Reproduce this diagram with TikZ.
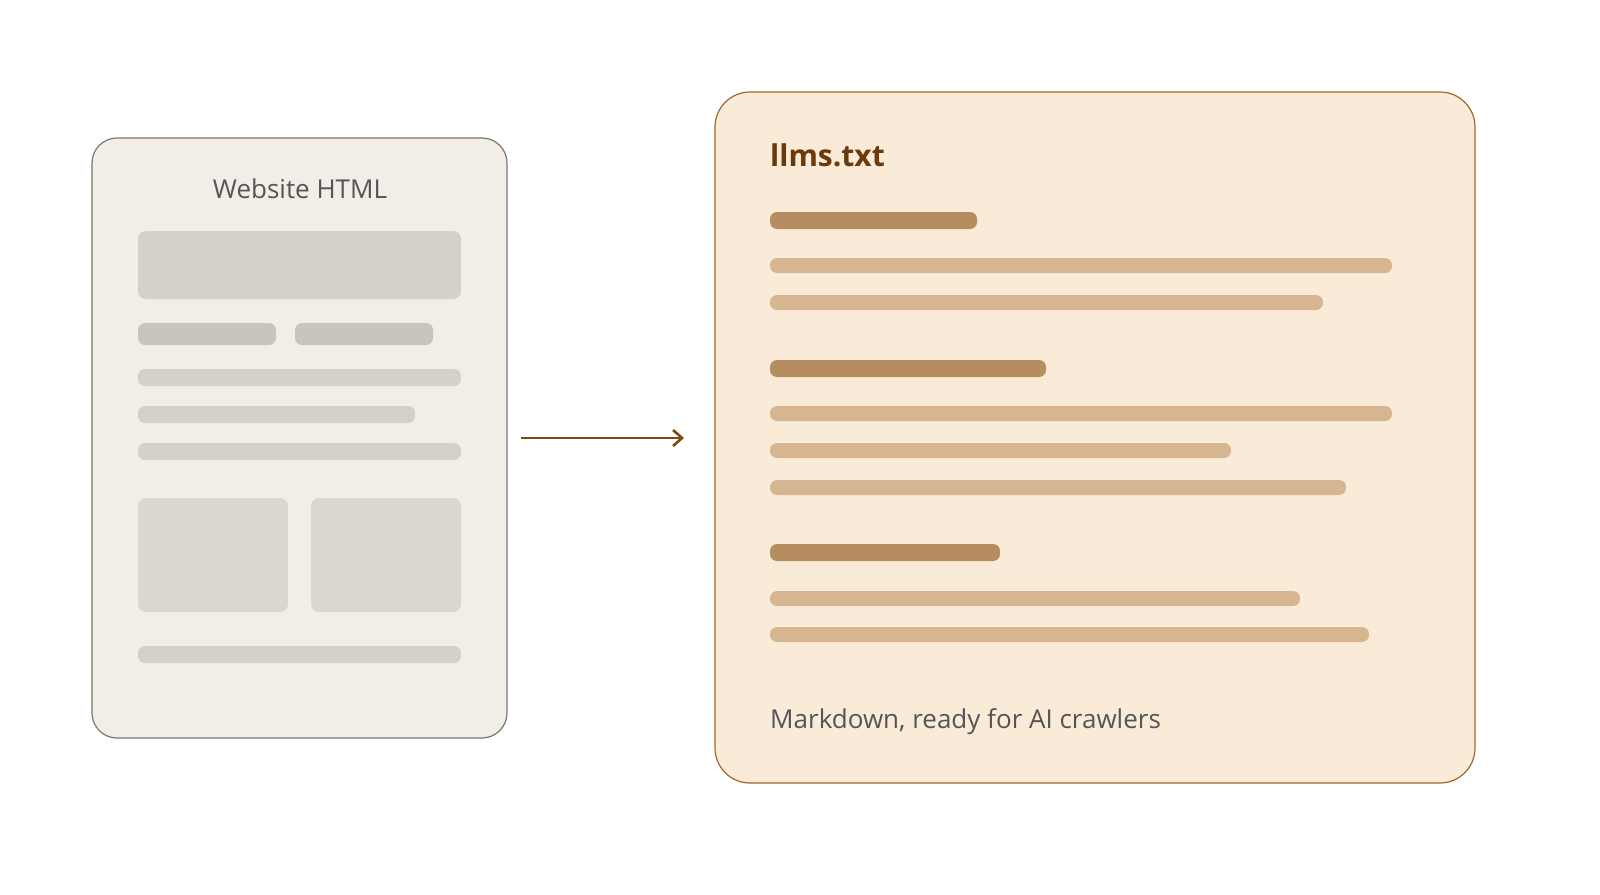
\documentclass[tikz,border=0pt]{standalone}
\usepackage{fontspec}
\setmainfont{Open Sans}
\usetikzlibrary{arrows.meta}
\definecolor{lfill}{HTML}{F2EEE7}
\definecolor{lstroke}{HTML}{7A7670}
\definecolor{rfill}{HTML}{FAEBD9}
\definecolor{rstroke}{HTML}{A0672A}
\definecolor{arr}{HTML}{7A4A10}
\definecolor{ttl}{HTML}{6B3A0A}
\definecolor{head}{HTML}{B58D5F}
\definecolor{line}{HTML}{D5B690}
\definecolor{txt}{HTML}{555555}
\definecolor{hero}{HTML}{D5D1CA}
\definecolor{pill}{HTML}{C9C5BE}
\definecolor{gline}{HTML}{D3D1CA}
\definecolor{card}{HTML}{DAD7D0}
\newcommand\bx[6]{\node[blk=#6,fill=#5,minimum width={#3-#1},minimum height={#4-#2}] (n#1x#2) at (#1,#2) {};}
\begin{document}
\begin{tikzpicture}[x=1pt,y=-1pt,
  blk/.style={draw=none,inner sep=0,outer sep=0,anchor=north west,rounded corners=#1},
  blk/.default=8pt]
\fill[white] (0,0) rectangle (1600,894);
\node[blk=25pt,draw=lstroke,line width=1.2pt,fill=lfill,minimum width=415pt,minimum height=600pt] (L) at (92,138) {};
\node[blk=35pt,draw=rstroke,line width=1.2pt,fill=rfill,minimum width=760pt,minimum height=691pt] (R) at (715,92) {};
\node[text=txt,font=\fontsize{26}{30}\selectfont] (lt) at (300,189) {Website HTML};
\bx{138}{231}{461}{299}{hero}{8pt}
\bx{138}{323}{276}{345}{pill}{7pt}
\bx{295}{323}{433}{345}{pill}{7pt}
\bx{138}{369}{461}{386}{gline}{7pt}
\bx{138}{406}{415}{423}{gline}{7pt}
\bx{138}{443}{461}{460}{gline}{7pt}
\bx{138}{498}{288}{612}{card}{8pt}
\bx{311}{498}{461}{612}{card}{8pt}
\bx{138}{646}{461}{663}{gline}{7pt}
\coordinate (a1) at ([xshift=14pt]L.east);
\coordinate (a2) at ([xshift=-31pt]R.west |- a1);
\draw[arr,line width=2.6pt,-{Straight Barb[length=9pt,width=16pt,line width=2.6pt]}] (a1) -- (a2);
\node[anchor=base west,inner sep=0,text=ttl,font=\fontsize{30}{34}\selectfont\bfseries] (rt) at (770,166) {llms.txt};
\bx{770}{212}{977}{229}{head}{7pt}
\bx{770}{258}{1392}{273}{line}{7pt}
\bx{770}{295}{1323}{310}{line}{7pt}
\bx{770}{360}{1046}{377}{head}{7pt}
\bx{770}{406}{1392}{421}{line}{7pt}
\bx{770}{443}{1231}{458}{line}{7pt}
\bx{770}{480}{1346}{495}{line}{7pt}
\bx{770}{544}{1000}{561}{head}{7pt}
\bx{770}{591}{1300}{606}{line}{7pt}
\bx{770}{627}{1369}{642}{line}{7pt}
\node[anchor=base west,inner sep=0,text=txt,font=\fontsize{26}{30}\selectfont] (ft) at (770,728) {Markdown, ready for AI crawlers};
\pgfresetboundingbox
\path[use as bounding box] (0,0) rectangle (1600,894);
\end{tikzpicture}
\end{document}
